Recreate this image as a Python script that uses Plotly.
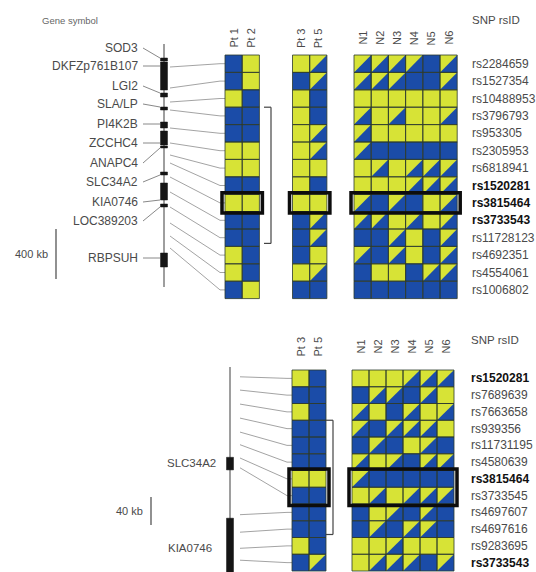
import plotly.graph_objects as go

# Genotype calls per SNP row: B = homozygous (blue), Y = homozygous (yellow), H = heterozygous
top_snps = ["rs2284659", "rs1527354", "rs10488953", "rs3796793", "rs953305", "rs2305953",
            "rs6818941", "rs1520281", "rs3815464", "rs3733543", "rs11728123", "rs4692351",
            "rs4554061", "rs1006802"]
top_bold = ["rs1520281", "rs3815464", "rs3733543"]
top_highlight = ["rs3815464"]
top_block = ["rs3796793", "rs11728123"]
top_pt12 = ["BY", "BY", "YB", "BB", "BB", "YY", "YY", "BB", "YY", "BB", "BB", "YB", "YB", "BY"]
top_pt35 = ["YH", "BH", "YB", "YB", "YH", "YH", "YY", "YB", "YY", "BH", "BH", "BY", "YH", "BB"]
top_normal = ["HHHHBH", "HHHBBH", "YYYYYY", "HYHYYH", "HYYYYY", "HBBBBB", "YHYHHH",
              "YYYHHH", "HBHBYH", "HHYHYH", "BBHYBH", "HBHYBH", "BYYBHH", "BBBBBB"]
top_snp_kb = [136, 304, 416, 480, 624, 744, 840, 904, 1016, 1136, 1256, 1384, 1488, 1584]

top_genes = ["SOD3", "DKFZp761B107", "LGI2", "SLA/LP", "PI4K2B", "ZCCHC4", "ANAPC4",
             "SLC34A2", "KIA0746", "LOC389203", "RBPSUH"]
top_gene_kb = [(64, 88), (96, 320), (344, 376), (456, 480), (576, 624), (648, 760),
               (768, 784), (976, 1000), (1064, 1200), (1232, 1256), (1624, 1736)]

bottom_snps = ["rs1520281", "rs7689639", "rs7663658", "rs939356", "rs11731195", "rs4580639",
               "rs3815464", "rs3733545", "rs4697607", "rs4697616", "rs9283695", "rs3733543"]
bottom_bold = ["rs1520281", "rs3815464", "rs3733543"]
bottom_highlight = ["rs3815464", "rs3733545"]
bottom_block = ["rs939356", "rs4697616"]
bottom_pt35 = ["YB", "BB", "YB", "BB", "BB", "BB", "YY", "BB", "BB", "BB", "YB", "BH"]
bottom_normal = ["YYYHHH", "BHHBHY", "HYBHYH", "HBHHHY", "BHBYHB", "HYHBHH",
                 "HBBBBB", "YHYHHH", "BYHBHB", "BHBHHB", "YYHYYY", "YHHHBH"]
bottom_snp_kb = [14, 33, 53, 73, 93, 111, 130, 144, 211, 236, 259, 276]

bottom_genes = ["SLC34A2", "KIA0746"]
bottom_gene_kb = [(129, 147), (216, 330)]

pt12_names = ["Pt 1", "Pt 2"]
pt35_names = ["Pt 3", "Pt 5"]
normal_names = ["N1", "N2", "N3", "N4", "N5", "N6"]

# ---- styling
BLUE = "#1b4ca8"
YELLOW = "#d7e336"
GRID = "#2c3a2c"
TXT = "#4a4a4a"
FONT = "Liberation Sans, Arial, sans-serif"
W, H = 536, 572

shapes = []
annotations = []


def text(x, y, s, size=12, color=TXT, xanchor="left", angle=0, bold=False):
    if bold:
        s = "<b>" + s + "</b>"
    annotations.append(dict(x=x, y=y, xref="x", yref="y", text=s, showarrow=False,
                            xanchor=xanchor, yanchor="middle", textangle=angle,
                            font=dict(family=FONT, size=size, color=color)))


def line(x0, y0, x1, y1, color="#808080", width=1.0):
    shapes.append(dict(type="line", xref="x", yref="y", x0=x0, y0=y0, x1=x1, y1=y1,
                       line=dict(color=color, width=width), layer="above"))


def grid(x0, y0, cw, rh, rows):
    fills, outlines = [], []
    for i, row in enumerate(rows):
        for j, g in enumerate(row):
            x, y = x0 + j * cw, y0 + i * rh
            base = YELLOW if g == "Y" else BLUE
            fills.append(dict(type="rect", xref="x", yref="y", x0=x, y0=y, x1=x + cw, y1=y + rh,
                              fillcolor=base, line=dict(width=0), layer="above"))
            if g == "H":
                path = f"M{x},{y} L{x + cw},{y} L{x},{y + rh} Z"
                fills.append(dict(type="path", xref="x", yref="y", path=path,
                                  fillcolor=YELLOW, line=dict(width=0), layer="above"))
            outlines.append(dict(type="rect", xref="x", yref="y", x0=x, y0=y, x1=x + cw,
                                 y1=y + rh, line=dict(color=GRID, width=0.8), layer="above"))
    shapes.extend(fills + outlines)


def highlight(x0, ncol, cw, y0, rh, snps, names):
    idx = [snps.index(n) for n in names]
    shapes.append(dict(type="rect", xref="x", yref="y", x0=x0 - 3, x1=x0 + ncol * cw + 3,
                       y0=y0 + min(idx) * rh - 1.5, y1=y0 + (max(idx) + 1) * rh + 1.5,
                       line=dict(color="#0d0d0d", width=3.5), layer="above"))


def bracket(x, y0, rh, snps, names, tick=7):
    a, b = snps.index(names[0]), snps.index(names[1])
    ya, yb = y0 + a * rh, y0 + (b + 1) * rh - 3
    line(x - tick, ya, x, ya, "#444", 1.2)
    line(x, ya, x, yb, "#444", 1.2)
    line(x - tick, yb, x, yb, "#444", 1.2)


def panel(cfg, snps, bold, calls_groups, names_groups, snp_kb, genes, gene_kb,
          highlight_names, block, leaders):
    y0, rh = cfg["y0"], cfg["rh"]
    cx = cfg["chrom_x"]
    to_y = lambda kb: cfg["chrom_y0"] + kb / cfg["kb_per_px"]

    # chromosome backbone and genes
    line(cx, cfg["chrom_y0"] - cfg["chrom_pad"], cx, cfg["chrom_y1"], "#6a6a6a", 1.3)
    for (g, (a, b)), ly, lx in zip(zip(genes, gene_kb), cfg["gene_label_y"], cfg["gene_label_x"]):
        ya, yb = to_y(a), to_y(b)
        shapes.append(dict(type="rect", xref="x", yref="y", x0=cx - 3.5, x1=cx + 3.5,
                           y0=ya, y1=yb, fillcolor="#151515", line=dict(color="#151515", width=0.5),
                           layer="above"))
        text(lx, ly, g, size=cfg["gene_size"], xanchor="right")
        if leaders:
            ty = min(max(ly, ya), yb)
            line(lx + 3, ly, cx - 4, ty, "#7a7a7a", 0.9)

    # SNP connectors from chromosome to the genotype grid
    gx = cfg["grid_x"][0]
    for i, kb in enumerate(snp_kb):
        line(cx + cfg["conn_gap"], to_y(kb), gx - 5, y0 + (i + 0.5) * rh, "#8c8c8c", 0.8)
        line(gx - 5, y0 + (i + 0.5) * rh, gx, y0 + (i + 0.5) * rh, "#8c8c8c", 0.8)

    # genotype grids + column headers + highlight boxes
    for x0, calls, names in zip(cfg["grid_x"], calls_groups, names_groups):
        grid(x0, y0, cfg["cw"], rh, calls)
        for j, n in enumerate(names):
            text(x0 + (j + 0.5) * cfg["cw"], cfg["head_y"], n, size=11, xanchor="center", angle=-90)
        highlight(x0, len(names), cfg["cw"], y0, rh, snps, highlight_names)

    bracket(cfg["bracket_x"], y0, rh, snps, block)

    # SNP identifiers
    text(cfg["label_x"], cfg["snp_head_y"], "SNP rsID", size=11.5)
    for i, s in enumerate(snps):
        b = s in bold
        text(cfg["label_x"], y0 + (i + 0.5) * rh, s, size=12,
             color="#111111" if b else TXT, bold=b)

    # scale bar
    sb = cfg["scale"]
    line(sb["x"], sb["y0"], sb["x"], sb["y1"], "#555", 1.3)
    text(sb["x"] - 6, (sb["y0"] + sb["y1"]) / 2, sb["label"], size=11, xanchor="right")


top_cfg = dict(y0=55, rh=17.4, cw=17.2, grid_x=[225, 292.5, 354], head_y=38, snp_head_y=20,
               label_x=470, chrom_x=164, chrom_y0=50, chrom_pad=6, chrom_y1=287, kb_per_px=8,
               conn_gap=6, bracket_x=271, gene_size=12,
               gene_label_y=[48, 66, 86, 104, 124, 143, 163, 182, 202, 221, 258],
               gene_label_x=[140] * 11,
               scale=dict(x=56, y0=229, y1=279, label="400 kb"))

bottom_cfg = dict(y0=370, rh=16.75, cw=17.0, grid_x=[292, 352], head_y=347, snp_head_y=340,
                  label_x=469, chrom_x=230, chrom_y0=367, chrom_pad=0, chrom_y1=572,
                  kb_per_px=40 / 28, conn_gap=10, bracket_x=333, gene_size=11.5,
                  gene_label_y=[463, 548], gene_label_x=[218, 214],
                  scale=dict(x=151, y0=497, y1=525, label="40 kb"))

text(70, 20, "Gene symbol", size=9.5, color="#666666", xanchor="center")

panel(top_cfg, top_snps, top_bold, [top_pt12, top_pt35, top_normal],
      [pt12_names, pt35_names, normal_names], top_snp_kb, top_genes, top_gene_kb,
      top_highlight, top_block, leaders=True)
panel(bottom_cfg, bottom_snps, bottom_bold, [bottom_pt35, bottom_normal],
      [pt35_names, normal_names], bottom_snp_kb, bottom_genes, bottom_gene_kb,
      bottom_highlight, bottom_block, leaders=False)

fig = go.Figure()
fig.add_trace(go.Scatter(x=[0, W], y=[0, H], mode="markers", marker=dict(opacity=0),
                         hoverinfo="skip", showlegend=False))
fig.update_layout(width=W, height=H, margin=dict(l=0, r=0, t=0, b=0),
                  paper_bgcolor="white", plot_bgcolor="white", showlegend=False,
                  shapes=shapes, annotations=annotations,
                  xaxis=dict(range=[0, W], visible=False, fixedrange=True),
                  yaxis=dict(range=[H, 0], visible=False, fixedrange=True))
fig.write_html("out.html", config=dict(displayModeBar=False))
